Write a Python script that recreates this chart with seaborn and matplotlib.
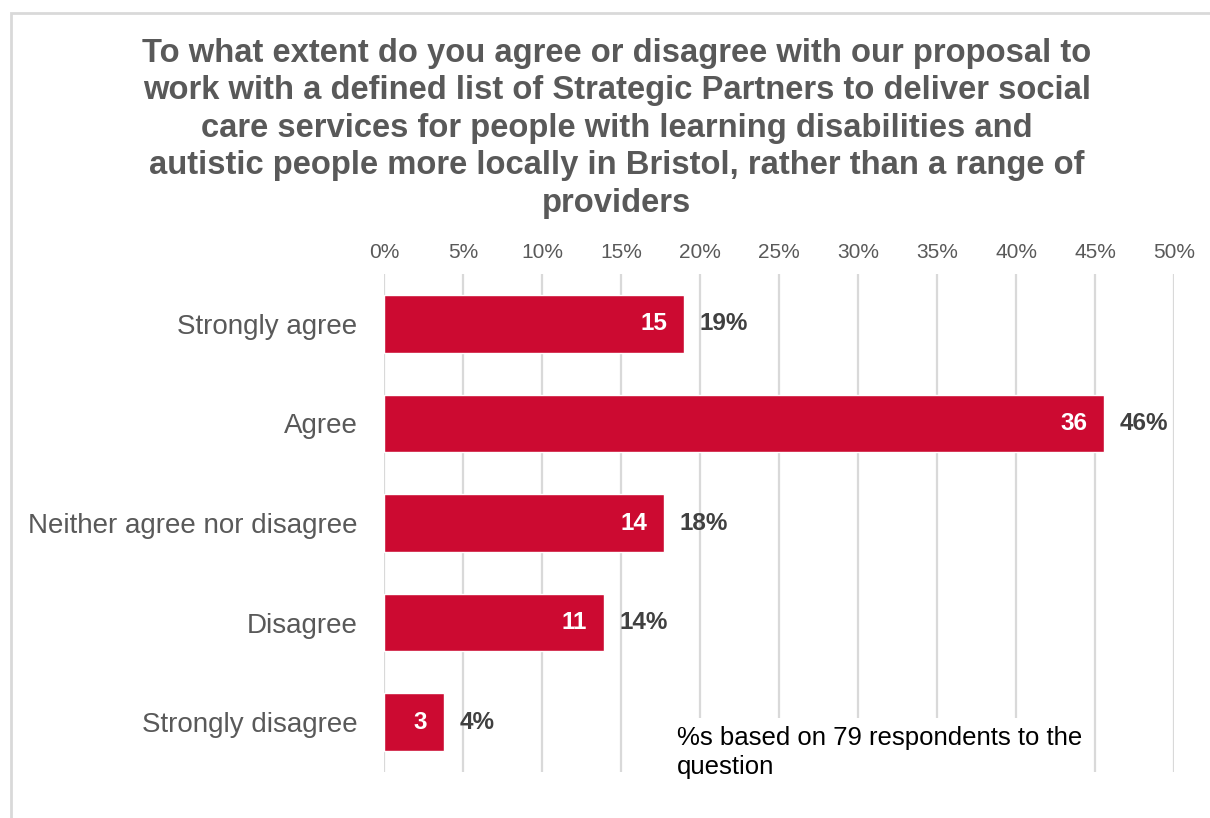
import matplotlib
matplotlib.use("Agg")
import matplotlib.pyplot as plt
from matplotlib.patches import Rectangle
import seaborn as sns
import pandas as pd

# Survey responses
categories = ["Strongly agree", "Agree", "Neither agree nor disagree",
              "Disagree", "Strongly disagree"]
counts = [15, 36, 14, 11, 3]
respondents = 79
tick_values = [0, 5, 10, 15, 20, 25, 30, 35, 40, 45, 50]
tick_labels = ["0%", "5%", "10%", "15%", "20%", "25%", "30%", "35%",
               "40%", "45%", "50%"]

title = ("To what extent do you agree or disagree with our proposal to\n"
         "work with a defined list of Strategic Partners to deliver social\n"
         "care services for people with learning disabilities and\n"
         "autistic people more locally in Bristol, rather than a range of\n"
         "providers")
note = "%s based on 79 respondents to the\nquestion"

percents = [c / respondents * 100 for c in counts]
df = pd.DataFrame({"category": categories, "percent": percents, "count": counts})

sns.set_theme(style="white")
plt.rcParams["font.family"] = ["Liberation Sans", "DejaVu Sans"]

BAR = "#CC0A31"
GREY = "#595959"
DARK = "#404040"
GRID = "#D9D9D9"

fig = plt.figure(figsize=(12.10, 8.18), dpi=100)
fig.patch.set_facecolor("white")

# Light frame round the chart area (top and left edges show)
fig.patches.append(Rectangle((11 / 1210, -0.05), 1.2, 1 - 13 / 818 + 0.05,
                             transform=fig.transFigure, fill=False,
                             edgecolor="#D9D9D9", linewidth=2, zorder=0))

ax = fig.add_axes([384 / 1210, 1 - 772 / 818, (1174 - 384) / 1210, (772 - 274) / 818])
sns.barplot(data=df, x="percent", y="category", orient="h", color=BAR,
            width=0.58, saturation=1, ax=ax, zorder=3)

ax.set_xlim(0, 50)
ax.set_ylim(4.5, -0.5)
ax.set_xticks(tick_values)
ax.set_xticklabels(tick_labels)
ax.xaxis.tick_top()
ax.tick_params(axis="x", length=0, pad=9, labelsize=15, labelcolor=GREY)
ax.tick_params(axis="y", length=0, pad=19, labelsize=20, labelcolor=GREY)
ax.set_xlabel("")
ax.set_ylabel("")
for s in ax.spines.values():
    s.set_visible(False)
ax.grid(axis="x", color=GRID, linewidth=1.6, zorder=0)
ax.set_axisbelow(True)

for i, (p, c) in enumerate(zip(percents, counts)):
    ax.annotate(f"{c}", (p, i), xytext=(-12, 0), textcoords="offset points",
                ha="right", va="center", color="white", fontsize=17.5,
                fontweight="bold", zorder=4)
    ax.annotate(f"{round(p)}%", (p, i), xytext=(11, 0), textcoords="offset points",
                ha="left", va="center", color=DARK, fontsize=17.5,
                fontweight="bold", zorder=4)

fig.text(617 / 1210, 1 - 38 / 818, title, ha="center", va="top",
         fontsize=23.6, fontweight="bold", color=GREY, linespacing=1.27)

fig.text(677 / 1210, 1 - 726 / 818, note, ha="left", va="top", fontsize=18.5,
         color="black", linespacing=1.28,
         bbox=dict(facecolor="white", edgecolor="none", pad=6), zorder=5)

fig.savefig("out.png", dpi=100, facecolor="white")
